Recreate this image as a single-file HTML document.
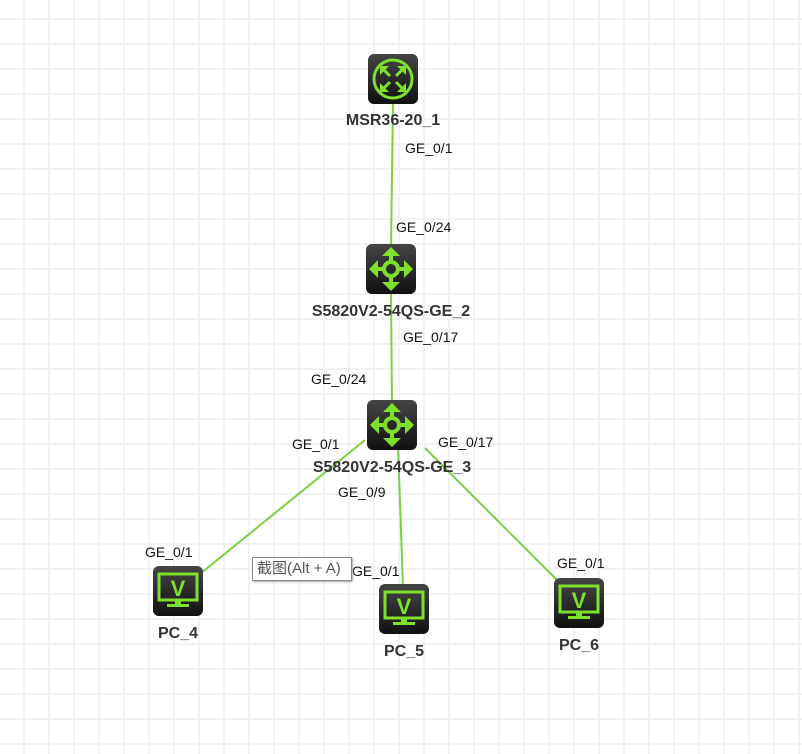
<!DOCTYPE html>
<html><head><meta charset="utf-8"><style>
body{margin:0;width:802px;height:754px;overflow:hidden;background:#fff;
background-image:linear-gradient(90deg,#f2f2f2 2px,transparent 2px),linear-gradient(#f2f2f2 2px,transparent 2px);
background-size:25px 25px;background-position:23px 18px;font-family:"Liberation Sans",sans-serif;}
svg{position:absolute;left:0;top:0}
.l{font-size:14px;fill:#111}
.n{font-size:16px;font-weight:bold;fill:#333}
</style></head><body>
<svg width="802" height="754">
<defs>
<linearGradient id="g" x1="0" y1="0" x2="0" y2="1"><stop offset="0" stop-color="#454545"/><stop offset="1" stop-color="#111"/></linearGradient>
<g id="sw"><rect x="0" y="0" width="50" height="50" rx="6" fill="url(#g)"/>
<g stroke="#7ee02a" stroke-width="4" fill="none"><circle cx="25" cy="25" r="7"/>
<path d="M25 18V9M25 32V41M18 25H9M32 25H41"/></g>
<g fill="#7ee02a"><path d="M25 3l-9 9h18z M25 47l-9-9h18z M3 25l9-9v18z M47 25l-9-9v18z"/></g></g>
<g id="pc"><rect x="0" y="0" width="50" height="50" rx="6" fill="url(#g)"/>
<rect x="6" y="8" width="38" height="26" fill="none" stroke="#7ee02a" stroke-width="3"/>
<text x="25" y="30" text-anchor="middle" font-size="22" font-weight="bold" fill="#7ee02a" font-family="Liberation Sans">V</text>
<rect x="22" y="34" width="6" height="4" fill="#7ee02a"/><rect x="14" y="38" width="22" height="3" fill="#7ee02a"/></g>
</defs>
<g stroke="#7ccf45" stroke-width="2">
<line x1="393" y1="100" x2="391" y2="250"/>
<line x1="391" y1="290" x2="392" y2="405"/>
<line x1="365" y1="440" x2="200" y2="574"/>
<line x1="398" y1="445" x2="403" y2="588"/>
<line x1="425" y1="448" x2="557" y2="580"/>
</g>
<rect x="368" y="54" width="50" height="50" rx="6" fill="url(#g)"/>
<g stroke="#7ee02a" stroke-width="3" fill="none"><circle cx="393" cy="79" r="19"/>
<path d="M383 69l7 7M403 69l-7 7M383 89l7-7M403 89l-7-7"/></g>
<g fill="#7ee02a"><path d="M380 66h9l-9 9z M406 66h-9l9 9z M380 92h9l-9-9z M406 92h-9l9-9z"/></g>
<use href="#sw" x="366" y="244"/>
<use href="#sw" x="367" y="400"/>
<use href="#pc" x="153" y="566"/>
<use href="#pc" x="379" y="584"/>
<use href="#pc" x="554" y="578"/>
<text class="n" x="393" y="125" text-anchor="middle">MSR36-20_1</text>
<text class="n" x="391" y="316" text-anchor="middle">S5820V2-54QS-GE_2</text>
<text class="n" x="392" y="472" text-anchor="middle">S5820V2-54QS-GE_3</text>
<text class="n" x="178" y="638" text-anchor="middle">PC_4</text>
<text class="n" x="404" y="656" text-anchor="middle">PC_5</text>
<text class="n" x="579" y="650" text-anchor="middle">PC_6</text>
<text class="l" x="405" y="153">GE_0/1</text>
<text class="l" x="396" y="232">GE_0/24</text>
<text class="l" x="403" y="342">GE_0/17</text>
<text class="l" x="311" y="384">GE_0/24</text>
<text class="l" x="292" y="449">GE_0/1</text>
<text class="l" x="438" y="447">GE_0/17</text>
<text class="l" x="338" y="497">GE_0/9</text>
<text class="l" x="145" y="557">GE_0/1</text>
<text class="l" x="352" y="576">GE_0/1</text>
<text class="l" x="557" y="568">GE_0/1</text>
</svg>
<div style="position:absolute;left:252px;top:557px;width:100px;height:24px;background:#fff;border:1px solid #888;box-shadow:1px 1px 2px #aaa;font-size:15px;color:#555;line-height:22px;padding-left:4px;box-sizing:border-box;font-family:'Liberation Sans','Noto Sans CJK SC',sans-serif;white-space:nowrap;overflow:hidden">截图(Alt + A)</div>
</body></html>
